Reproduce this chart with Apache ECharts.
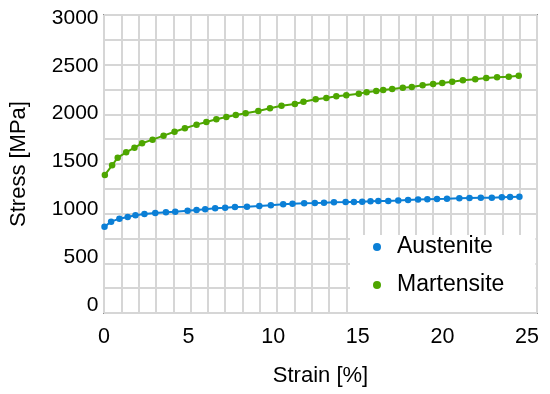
<!DOCTYPE html>
<html><head><meta charset="utf-8">
<script src="https://cdn.jsdelivr.net/npm/echarts@6/dist/echarts.min.js"></script>
<style>html,body{margin:0;padding:0;background:#fff}#c{width:550px;height:394px}</style>
</head><body><div id="c"></div>
<script>
var xTicks = [0, 5, 10, 15, 20, 25];
var yTicks = [0, 500, 1000, 1500, 2000, 2500, 3000];
var strainM = [0.05,0.48,0.81,1.31,1.80,2.25,2.87,3.52,4.17,4.78,5.47,6.05,6.64,7.23,7.79,8.37,9.12,9.81,10.49,11.28,11.79,12.51,13.14,13.73,14.32,15.06,15.52,16.09,16.50,17.03,17.66,18.19,18.83,19.45,19.99,20.58,21.21,21.94,22.59,23.23,23.92,24.51];
var stressM = [1359,1460,1540,1596,1644,1690,1728,1770,1811,1847,1885,1913,1941,1965,1986,2004,2028,2056,2083,2101,2125,2150,2164,2181,2192,2209,2223,2237,2247,2258,2271,2279,2296,2310,2320,2334,2349,2359,2373,2380,2386,2397];
var strainA = [0.03,0.42,0.91,1.40,1.86,2.39,3.03,3.66,4.21,4.94,5.47,5.98,6.57,7.16,7.74,8.45,9.18,9.86,10.59,11.14,11.83,12.46,13.00,13.59,14.28,14.77,15.26,15.75,16.21,16.80,17.39,17.97,18.56,19.11,19.68,20.27,21.00,21.60,22.27,22.92,23.51,24.00,24.55];
var stressA = [818,871,902,920,938,951,962,969,975,986,993,1000,1011,1017,1024,1027,1035,1042,1053,1059,1063,1066,1069,1073,1075,1077,1080,1084,1086,1088,1092,1098,1102,1105,1108,1111,1115,1118,1120,1122,1126,1129,1132];
var names = ['Austenite', 'Martensite'];
var colors = ['#0b7fd6', '#4ea600'];

function pairs(xs, ys) { return xs.map(function (x, i) { return [x, ys[i]]; }); }
function plain(v) { return String(v); }

var font = "'Liberation Sans', Arial, sans-serif";
var chart = echarts.init(document.getElementById('c'), null, {renderer: 'canvas'});
chart.setOption({
  animation: false,
  grid: {left: 102.5, right: 13, top: 15, bottom: 81, show: true, borderColor: '#3a3a3a', borderWidth: 1.5, backgroundColor: 'transparent'},
  xAxis: [{
    type: 'value', min: 0, max: 25.59, position: 'bottom',
    name: 'Strain [%]', nameLocation: 'middle', nameGap: 52,
    nameTextStyle: {fontFamily: font, fontSize: 22, color: '#000'},
    axisLine: {show: false}, axisTick: {show: false}, splitLine: {show: false},
    axisLabel: {customValues: xTicks, formatter: plain, fontFamily: font, fontSize: 21.5, color: '#000', margin: 13}
  }, {
    type: 'value', min: 0, max: 25, interval: 1, position: 'top',
    axisLine: {show: false}, axisTick: {show: false}, axisLabel: {show: false},
    splitLine: {show: true, lineStyle: {color: '#d6d6d6', width: 2}}
  }],
  yAxis: [{
    type: 'value', min: -84, max: 3031, position: 'left',
    name: 'Stress [MPa]', nameLocation: 'middle', nameGap: 74,
    nameTextStyle: {fontFamily: font, fontSize: 22, color: '#000'},
    axisLine: {show: false}, axisTick: {show: false}, splitLine: {show: false},
    axisLabel: {customValues: yTicks, formatter: plain, fontFamily: font, fontSize: 21, color: '#000', margin: 5.5}
  }, {
    type: 'value', min: 0, max: 3000, interval: 250, position: 'right',
    axisLine: {show: false}, axisTick: {show: false}, axisLabel: {show: false},
    splitLine: {show: true, lineStyle: {color: '#d6d6d6', width: 2}}
  }],
  legend: {
    orient: 'vertical', left: 350, top: 235,
    data: names.map(function (n) { return {name: n, icon: 'circle'}; }),
    itemWidth: 8, itemHeight: 8, itemGap: 14,
    padding: [0, 31, 15, 23],
    backgroundColor: '#fff',
    textStyle: {fontFamily: font, fontSize: 23, color: '#000', lineHeight: 24, padding: [0, 0, 0, 11]}
  },
  series: [{
    name: names[0], type: 'line', xAxisIndex: 0, yAxisIndex: 0,
    data: pairs(strainA, stressA), color: colors[0],
    symbol: 'circle', symbolSize: 6.5, lineStyle: {width: 2, color: colors[0]},
    itemStyle: {color: colors[0]}
  }, {
    name: names[1], type: 'line', xAxisIndex: 0, yAxisIndex: 0,
    data: pairs(strainM, stressM), color: colors[1],
    symbol: 'circle', symbolSize: 6.5, lineStyle: {width: 2, color: colors[1]},
    itemStyle: {color: colors[1]}
  }]
});
</script></body></html>
